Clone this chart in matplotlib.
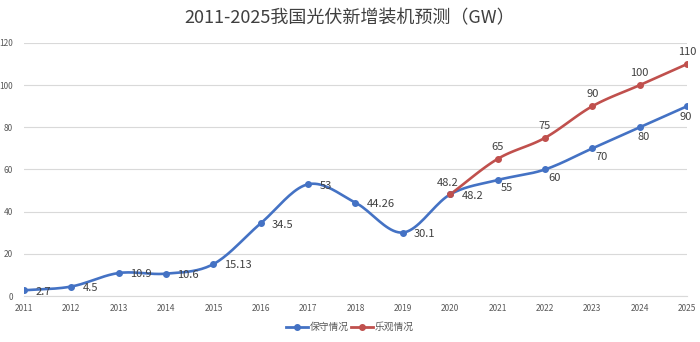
import numpy as np
import matplotlib.pyplot as plt

plt.rcParams['font.family'] = ['Noto Sans CJK SC', 'DejaVu Sans']

years = list(range(2011, 2026))
conservative = [2.7, 4.5, 10.9, 10.6, 15.13, 34.5, 53, 44.26, 30.1, 48.2, 55, 60, 70, 80, 90]
opt_years = list(range(2020, 2026))
optimistic = [48.2, 65, 75, 90, 100, 110]

BLUE = '#4472C4'
RED = '#C0504D'
TXT = '#404040'


def smooth(x, y, n=20):
    # Catmull-Rom spline, close to Excel's smoothed line
    x = np.asarray(x, float)
    y = np.asarray(y, float)
    px = np.concatenate([[2 * x[0] - x[1]], x, [2 * x[-1] - x[-2]]])
    py = np.concatenate([[2 * y[0] - y[1]], y, [2 * y[-1] - y[-2]]])
    xs, ys = [], []
    for i in range(1, len(px) - 2):
        t = np.linspace(0, 1, n, endpoint=False)
        for p, out in ((px, xs), (py, ys)):
            p0, p1, p2, p3 = p[i - 1], p[i], p[i + 1], p[i + 2]
            out.extend(0.5 * (2 * p1 + (-p0 + p2) * t + (2 * p0 - 5 * p1 + 4 * p2 - p3) * t ** 2
                              + (-p0 + 3 * p1 - 3 * p2 + p3) * t ** 3))
    xs.append(x[-1])
    ys.append(y[-1])
    return np.array(xs), np.array(ys)


fig = plt.figure(figsize=(7, 3.42), dpi=100)
ax = fig.add_axes([24 / 700, 1 - 296 / 342, 663 / 700, 253 / 342])

sx, sy = smooth(years, conservative)
ax.plot(sx, sy, color=BLUE, lw=1.9, zorder=3)
ax.plot(years, conservative, 'o', color=BLUE, ms=4, zorder=4)
sx, sy = smooth(opt_years, optimistic)
ax.plot(sx, sy, color=RED, lw=1.9, zorder=3)
ax.plot(opt_years, optimistic, 'o', color=RED, ms=4, zorder=4)

# blue labels: right of the point up to 2020, then below-right
below = {2021: (7, -6), 2022: (7, -6), 2023: (7, -6), 2024: (3, -7), 2025: (-1, -8)}
for x, v in zip(years, conservative):
    lab = f'{v:g}'
    if x in below:
        ax.annotate(lab, (x, v), xytext=below[x], textcoords='offset points',
                    ha='center', va='center', fontsize=8, color=TXT, zorder=5)
    else:
        ax.annotate(lab, (x, v), xytext=(8, -1), textcoords='offset points',
                    ha='left', va='center', fontsize=8, color=TXT, zorder=5)
for x, v in zip(opt_years, optimistic):
    dx = -2 if x == 2020 else 0
    ax.annotate(f'{v:g}', (x, v), xytext=(dx, 8.5), textcoords='offset points',
                ha='center', va='center', fontsize=8, color=TXT, zorder=5)

ax.set_xlim(2011, 2025)
ax.set_ylim(0, 120)
ax.set_yticks(range(0, 121, 20))
ax.set_xticks(years)
ax.tick_params(axis='both', length=0, labelsize=6, colors='#595959')
ax.tick_params(axis='x', pad=6)
ax.tick_params(axis='y', pad=8)
ax.grid(axis='y', color='#D9D9D9', lw=0.8)
ax.set_axisbelow(True)
for s in ['top', 'right', 'left']:
    ax.spines[s].set_visible(False)
ax.spines['bottom'].set_color('#D9D9D9')

fig.text(0.5, 1 - 18 / 342, '2011-2025我国光伏新增装机预测（GW）', ha='center', va='center',
         fontsize=13, color=TXT)

h1, = ax.plot([], [], '-o', color=BLUE, ms=4, lw=2)
h2, = ax.plot([], [], '-o', color=RED, ms=4, lw=2)
fig.legend([h1, h2], ['保守情况', '乐观情况'], loc='center', bbox_to_anchor=(0.5, 1 - 327 / 342),
           ncol=2, frameon=False, fontsize=7, handlelength=2.2, columnspacing=0.3,
           handletextpad=0.2, labelcolor='#595959')

fig.savefig('out.png', dpi=100)
